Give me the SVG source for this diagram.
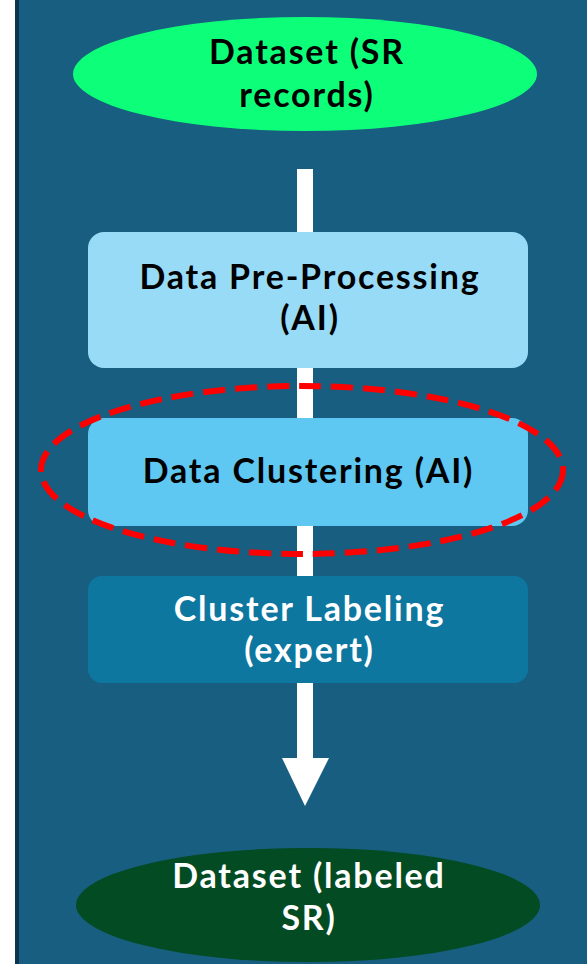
<svg xmlns="http://www.w3.org/2000/svg" width="587" height="964" viewBox="0 0 587 964">
  <style>
    .lbl { font-family: Lato, "Open Sans", "Liberation Sans", sans-serif; font-weight: 700; font-size: 34px; letter-spacing: 1.8px; text-anchor: middle; }
    .dark { fill: #000000; }
    .light { fill: #ffffff; }
    .box { stroke: none; }
  </style>
  <!-- page background -->
  <rect x="0" y="0" width="587" height="964" fill="#ffffff"/>
  <rect x="15" y="0" width="572" height="964" fill="#0d3550"/>
  <rect x="19" y="0" width="568" height="964" fill="#175e80"/>

  <!-- flow arrow running behind the steps -->
  <g id="connectors">
    <rect x="297" y="169" width="16" height="592" fill="#ffffff"/>
    <polygon points="282,758 329,758 305,806" fill="#ffffff"/>
  </g>

  <g id="dataset-sr">
    <ellipse cx="305" cy="74" rx="232" ry="57" fill="#0dff7a"/>
    <text class="lbl dark" x="307" y="64">Dataset (SR</text>
    <text class="lbl dark" x="307" y="107">records)</text>
  </g>

  <g id="preprocessing">
    <rect class="box" x="88" y="232" width="440" height="136" rx="16" fill="#97dbf7"/>
    <text class="lbl dark" x="310" y="289">Data Pre-Processing</text>
    <text class="lbl dark" x="310" y="330">(AI)</text>
  </g>

  <g id="clustering">
    <rect class="box" x="88" y="418" width="440" height="108" rx="16" fill="#5ec8f2"/>
    <text class="lbl dark" x="308.5" y="483">Data Clustering (AI)</text>
  </g>

  <g id="labeling">
    <rect class="box" x="88" y="576" width="440" height="107" rx="14" fill="#0e77a0"/>
    <text class="lbl light" x="309.5" y="621">Cluster Labeling</text>
    <text class="lbl light" x="309.5" y="662">(expert)</text>
  </g>

  <g id="dataset-labeled">
    <ellipse cx="308" cy="905" rx="232" ry="57" fill="#034b22"/>
    <text class="lbl light" x="309" y="888">Dataset (labeled</text>
    <text class="lbl light" x="309" y="930">SR)</text>
  </g>

  <!-- highlight around the clustering step -->
  <g id="highlight">
    <ellipse cx="302" cy="470" rx="261" ry="84" fill="none" stroke="#ff0000" stroke-width="6" stroke-dasharray="22 10"/>
  </g>
</svg>
